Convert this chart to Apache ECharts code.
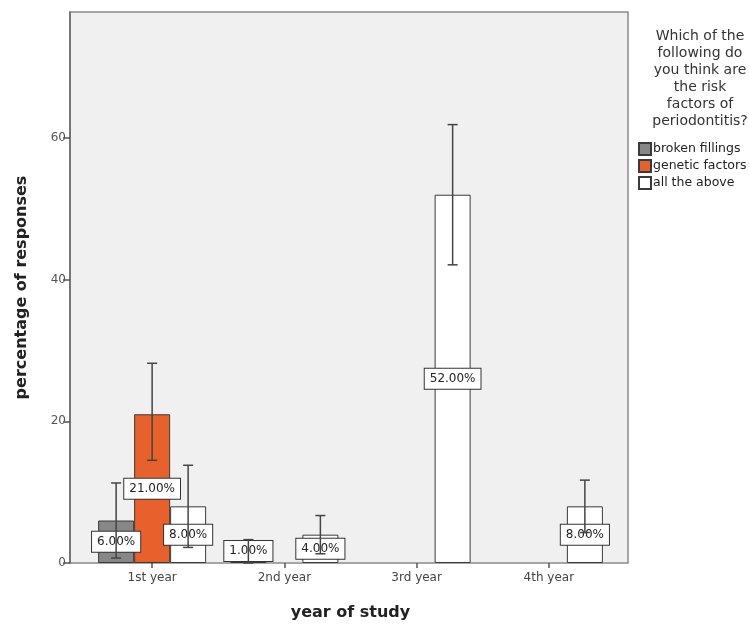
<!DOCTYPE html>
<html><head><meta charset="utf-8">
<script src="https://cdn.jsdelivr.net/npm/echarts@6/dist/echarts.min.js"></script>
<style>html,body{margin:0;padding:0;background:#fff}#c{width:749px;height:626px}</style>
</head><body><div id="c"></div>
<script>
// ---- data ----
const categories = ['1st year', '2nd year', '3rd year', '4th year'];
const seriesNames = ['broken fillings', 'genetic factors', 'all the above'];
const brokenFillings = [6, 1, null, null];
const geneticFactors = [21, null, null, null];
const allTheAbove = [8, 4, 52, 8];
// 95% CI error bars (low / high)
const brokenLow = [0.7, 0, null, null];
const brokenHigh = [11.3, 3.3, null, null];
const geneticLow = [14.5, null, null, null];
const geneticHigh = [28.2, null, null, null];
const allLow = [2.2, 1.3, 42.1, 4.3];
const allHigh = [13.8, 6.7, 61.9, 11.7];
const yMin = 0, yMax = 77.8, yInterval = 20;
const legendTitle = 'Which of the\nfollowing do\nyou think are\nthe risk\nfactors of\nperiodontitis?';

// ---- styles ----
const FONT = 'DejaVu Sans';
const BAR_W = 36;
const colors = ['#878787', '#e8602c', '#ffffff'];

const values = [brokenFillings, geneticFactors, allTheAbove];
const lows = [brokenLow, geneticLow, allLow];
const highs = [brokenHigh, geneticHigh, allHigh];

const errData = [];
values.forEach((vals, s) => {
  vals.forEach((v, i) => {
    if (v !== null && highs[s][i] !== null) errData.push([i, lows[s][i], highs[s][i], s]);
  });
});

let chart;
const barSeries = seriesNames.map((name, s) => ({
  name: name,
  type: 'bar',
  xAxisIndex: 1, yAxisIndex: 1,
  barWidth: BAR_W,
  barGap: '0%',
  data: values[s],
  itemStyle: { color: colors[s], borderColor: '#3a3a3a', borderWidth: 1 },
  label: {
    show: true, position: 'inside',
    formatter: p => p.value.toFixed(2) + '%',
    fontFamily: FONT, fontSize: 12, color: '#222',
    backgroundColor: '#fff', borderColor: '#333', borderWidth: 1,
    padding: [4, 5]
  },
  labelLayout: function (p) {
    const base = chart.convertToPixel({ yAxisIndex: 1 }, 0);
    const r = p.labelRect;
    if (r.y + r.height > base - 1) return { dy: (base - 1) - (r.y + r.height) };
    return {};
  },
  z: 2
}));

const errSeries = {
  type: 'custom',
  xAxisIndex: 1, yAxisIndex: 1,
  data: errData,
  encode: { x: 0, y: [1, 2] },
  z: 10,
  silent: true,
  renderItem: function (params, api) {
    const i = api.value(0), lo = Math.max(api.value(1), 0), hi = api.value(2), s = api.value(3);
    const pHi = api.coord([i, hi]);
    const pLo = api.coord([i, lo]);
    const x = pHi[0] + (s - 1) * BAR_W;
    const cap = 5;
    const st = { stroke: '#444', lineWidth: 1.5 };
    return {
      type: 'group',
      children: [
        { type: 'line', shape: { x1: x, y1: pHi[1], x2: x, y2: pLo[1] }, style: st },
        { type: 'line', shape: { x1: x - cap, y1: pHi[1], x2: x + cap, y2: pHi[1] }, style: st },
        { type: 'line', shape: { x1: x - cap, y1: pLo[1], x2: x + cap, y2: pLo[1] }, style: st }
      ]
    };
  }
};

chart = echarts.init(document.getElementById('c'));
chart.setOption({
  animation: false,
  backgroundColor: '#fff',
  title: {
    text: legendTitle,
    left: 695, top: 23, textAlign: 'center',
    textStyle: { fontFamily: FONT, fontSize: 14, fontWeight: 'normal', lineHeight: 17, color: '#333' }
  },
  legend: {
    orient: 'vertical', left: 633, top: 137,
    itemWidth: 12, itemHeight: 12, itemGap: 3,
    icon: 'rect',
    data: seriesNames,
    textStyle: { fontFamily: FONT, fontSize: 12.5, color: '#222', padding: [0, 0, 0, -3] }
  },
  grid: [
    { left: 70, top: 12, width: 558, height: 551, show: true, backgroundColor: '#f0f0f0', borderColor: '#8a8a8a', borderWidth: 1.5, z: 0 },
    { left: 86, top: 12, width: 529, height: 551 }
  ],
  xAxis: [
    { gridIndex: 0, type: 'value', show: false, min: 0, max: 1 },
    {
      gridIndex: 1, type: 'category', data: categories,
      axisLine: { show: false },
      axisTick: { show: true, alignWithLabel: true, length: 5, lineStyle: { color: '#555', width: 1.5 } },
      axisLabel: { fontFamily: FONT, fontSize: 12, color: '#444', margin: 9 },
      name: 'year of study', nameLocation: 'middle', nameGap: 42,
      nameTextStyle: { fontFamily: FONT, fontSize: 16, fontWeight: 'bold', color: '#222' }
    }
  ],
  yAxis: [
    { gridIndex: 0, type: 'value', show: false, min: 0, max: 1 },
    {
      gridIndex: 1, type: 'value', min: yMin, max: yMax, interval: yInterval,
      offset: 16,
      axisLine: { show: true, lineStyle: { color: '#666', width: 1.5 } },
      axisTick: { show: true, length: 7, lineStyle: { color: '#555', width: 1.5 } },
      axisLabel: { fontFamily: FONT, fontSize: 12, color: '#555', margin: 4, showMaxLabel: false },
      splitLine: { show: false },
      name: 'percentage of responses', nameLocation: 'middle', nameGap: 40, nameRotate: 90,
      nameTextStyle: { fontFamily: FONT, fontSize: 16, fontWeight: 'bold', color: '#222' }
    }
  ],
  series: barSeries.concat([errSeries])
});
</script>
</body></html>
